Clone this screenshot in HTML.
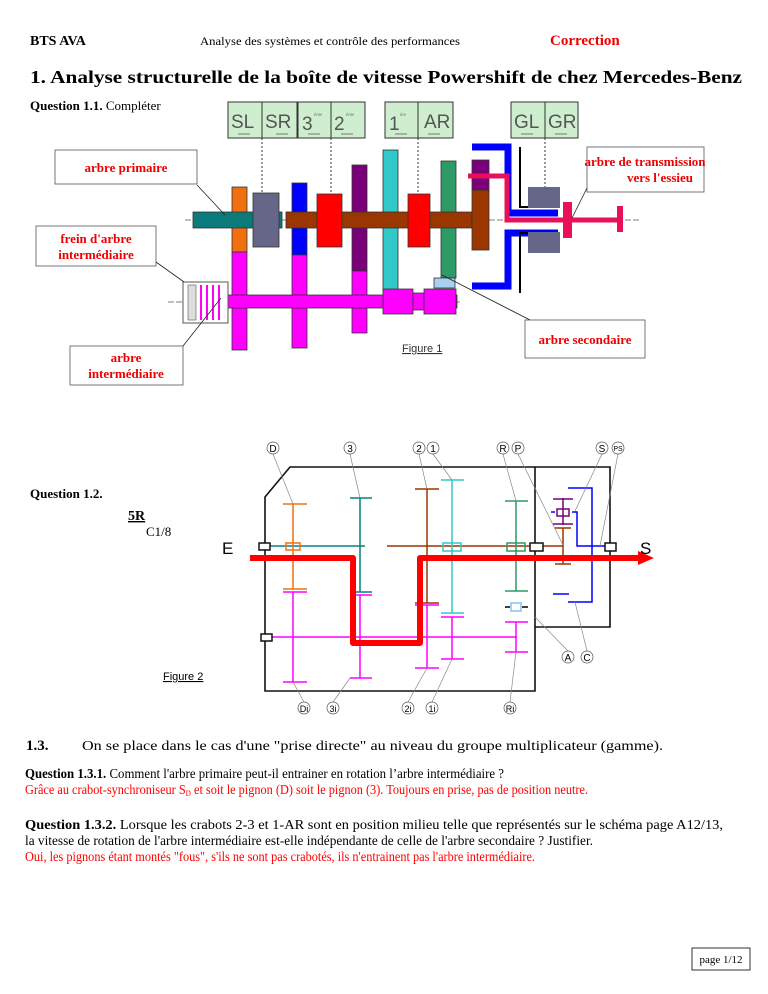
<!DOCTYPE html>
<html><head><meta charset="utf-8"><style>
html,body{margin:0;padding:0;background:#fff}
svg{display:block}
text{font-family:"Liberation Serif",serif}
.sans{font-family:"Liberation Sans",sans-serif}
</style></head><body>
<svg width="768" height="994" viewBox="0 0 768 994" xmlns="http://www.w3.org/2000/svg">
<!-- header -->
<text x="30" y="45" font-size="14" font-weight="bold">BTS AVA</text>
<text x="200" y="45" font-size="12" textLength="260" lengthAdjust="spacingAndGlyphs">Analyse des systèmes et contrôle des performances</text>
<text x="550" y="45" font-size="15" font-weight="bold" fill="#e00">Correction</text>
<text x="30" y="83" font-size="18" font-weight="bold" textLength="712" lengthAdjust="spacingAndGlyphs">1. Analyse structurelle de la boîte de vitesse Powershift de chez Mercedes-Benz</text>
<text x="30" y="110" font-size="13"><tspan font-weight="bold">Question 1.1.</tspan> Compléter</text>

<!-- FIGURE 1 -->
<g stroke="#333" stroke-width="1">
<rect x="228" y="102" width="69" height="36" fill="#cfeecf"/><line x1="262" y1="102" x2="262" y2="138"/>
<rect x="298" y="102" width="67" height="36" fill="#cfeecf"/><line x1="331" y1="102" x2="331" y2="138"/>
<rect x="385" y="102" width="68" height="36" fill="#cfeecf"/><line x1="418" y1="102" x2="418" y2="138"/>
<rect x="511" y="102" width="67" height="36" fill="#cfeecf"/><line x1="545" y1="102" x2="545" y2="138"/>
</g>
<g class="sans" font-size="19" fill="#555">
<text x="231" y="128" class="sans">SL</text><text x="265" y="128" class="sans">SR</text>
<text x="302" y="130" class="sans">3</text><text x="334" y="130" class="sans">2</text>
<text x="389" y="130" class="sans">1</text><text x="424" y="128" class="sans">AR</text>
<text x="514" y="128" class="sans">GL</text><text x="548" y="128" class="sans">GR</text>
</g>
<g font-size="5" fill="#777"><text x="314" y="116">ème</text><text x="346" y="116">ème</text><text x="400" y="116">ère</text></g>
<g fill="none" stroke="#777" stroke-width="1">
<path d="M238 134h12M276 134h12M308 134h12M341 134h12M395 134h12M428 134h12M521 134h12M555 134h12"/>
</g>
<g stroke="#333" stroke-dasharray="2,2" stroke-width="1">
<line x1="262" y1="138" x2="262" y2="195"/><line x1="331" y1="138" x2="331" y2="195"/><line x1="418" y1="138" x2="418" y2="195"/><line x1="545" y1="138" x2="545" y2="188"/>
</g>
<line x1="185" y1="220" x2="640" y2="220" stroke="#555" stroke-dasharray="6,2" stroke-width="0.8"/>
<line x1="168" y1="302" x2="460" y2="302" stroke="#555" stroke-dasharray="6,2" stroke-width="0.8"/>
<g stroke="#333" stroke-width="0.8">
<rect x="232" y="187" width="15" height="65" fill="#f07010"/>
<rect x="232" y="252" width="15" height="98" fill="#f0f"/>
<rect x="292" y="183" width="15" height="72" fill="#00f"/>
<rect x="292" y="255" width="15" height="93" fill="#f0f"/>
<rect x="352" y="165" width="15" height="106" fill="#7a007a"/>
<rect x="352" y="271" width="15" height="62" fill="#f0f"/>
<rect x="383" y="150" width="15" height="140" fill="#30c8c8"/>
<rect x="441" y="161" width="15" height="117" fill="#2e9a66"/>
<rect x="434" y="278" width="21" height="10" fill="#a8d0f0"/>
<rect x="193" y="212" width="89" height="16" fill="#0a7a7a"/>
<rect x="286" y="212" width="186" height="16" fill="#9a3600"/>
<rect x="200" y="295" width="257" height="13" fill="#f0f"/>
<rect x="383" y="289" width="30" height="25" fill="#f0f"/>
<rect x="413" y="293" width="12" height="17" fill="#f0f"/>
<rect x="424" y="289" width="32" height="25" fill="#f0f"/>
<rect x="253" y="193" width="26" height="54" fill="#666688"/>
<rect x="317" y="194" width="25" height="53" fill="#f00"/>
<rect x="408" y="194" width="22" height="53" fill="#f00"/>
<rect x="472" y="190" width="17" height="60" fill="#9a3600"/>
<rect x="472" y="160" width="17" height="30" fill="#7a007a"/>
</g>
<rect x="183" y="282" width="45" height="41" fill="#fff" stroke="#555"/>
<rect x="188" y="285" width="8" height="35" fill="#ddd" stroke="#555" stroke-width="0.6"/>
<g stroke="#f0f" stroke-width="2"><path d="M201 285v35M207 285v35M213 285v35M219 285v35"/></g>
<path d="M472 147h36v66h50" fill="none" stroke="#00f" stroke-width="7"/>
<path d="M472 286h36v-53h50" fill="none" stroke="#00f" stroke-width="7"/>
<path d="M520 147v60h10M520 293v-60h10" fill="none" stroke="#000" stroke-width="2"/>
<rect x="528" y="187" width="32" height="21" fill="#666688"/>
<rect x="528" y="232" width="32" height="21" fill="#666688"/>
<path d="M468 176h39v44h115" fill="none" stroke="#e8105a" stroke-width="5"/>
<rect x="563" y="202" width="9" height="36" fill="#e8105a"/>
<rect x="617" y="206" width="6" height="26" fill="#e8105a"/>
<g fill="#fff" stroke="#555" stroke-width="0.8">
<rect x="55" y="150" width="142" height="34"/>
<rect x="587" y="147" width="117" height="45"/>
<rect x="36" y="226" width="120" height="40"/>
<rect x="70" y="346" width="113" height="39"/>
<rect x="525" y="320" width="120" height="38"/>
</g>
<g stroke="#222" stroke-width="0.8" fill="none">
<path d="M197 185l28 30M156 262l28 20M183 346l38-48 M530 320l-88-45M587 188l-15 30"/>
</g>
<g font-size="13" font-weight="bold" fill="#e00" text-anchor="middle">
<text x="126" y="172">arbre primaire</text>
<text x="645" y="166">arbre de transmission</text><text x="660" y="182">vers l'essieu</text>
<text x="96" y="243">frein d'arbre</text><text x="96" y="259">intermédiaire</text>
<text x="126" y="362">arbre</text><text x="126" y="378">intermédiaire</text>
<text x="585" y="344">arbre secondaire</text>
</g>
<text x="402" y="352" font-size="11" class="sans" fill="#333" text-decoration="underline">Figure 1</text>

<text x="30" y="498" font-size="13" font-weight="bold">Question 1.2.</text>
<text x="128" y="520" font-size="14" font-weight="bold" text-decoration="underline">5R</text>
<text x="146" y="536" font-size="13">C1/8</text>
<text x="163" y="680" font-size="11" class="sans" text-decoration="underline">Figure 2</text>

<!-- FIGURE 2 -->
<path d="M265 497L290 467H610V627H535V691H265Z" fill="none" stroke="#111" stroke-width="1.6"/>
<line x1="535" y1="467" x2="535" y2="627" stroke="#111" stroke-width="1.6"/>
<g stroke-width="1.5" fill="none">
<path d="M265 546H365" stroke="#0a8080"/>
<path d="M387 546H563" stroke="#9a3600"/>
<path d="M263 637H517" stroke="#f0f"/>
<path d="M293 504v85M283 504h24M283 589h24" stroke="#f07010"/>
<rect x="286" y="543" width="14" height="7" stroke="#f07010"/>
<path d="M293 592v90M283 592h24M283 682h24" stroke="#f0f"/>
<path d="M360 498v94M350 498h22M350 592h22" stroke="#0a8080"/>
<path d="M360 595v83M350 595h22M350 678h22" stroke="#f0f"/>
<path d="M427 489v114M415 489h24M415 603h24" stroke="#9a3600"/>
<path d="M427 605v63M415 605h24M415 668h24" stroke="#f0f"/>
<path d="M452 480v133M441 480h23M441 613h23" stroke="#30c8c8"/>
<rect x="443" y="543" width="18" height="8" stroke="#30c8c8"/>
<path d="M452 617v42M441 617h23M441 659h23" stroke="#f0f"/>
<path d="M516 501v90M505 501h23M505 591h23" stroke="#2e9a66"/>
<rect x="507" y="543" width="18" height="8" stroke="#2e9a66"/>
<rect x="511" y="603" width="10" height="8" stroke="#8ac0f0"/>
<path d="M505 607h5M522 607h6" stroke="#000"/>
<path d="M516 622v30M505 622h23M505 652h23" stroke="#f0f"/>
<path d="M563 528v36M555 528h16M555 564h16" stroke="#9a3600"/>
<path d="M563 498v27M553 499h20M553 524h20" stroke="#7a007a"/>
<rect x="557" y="509" width="12" height="7" stroke="#7a007a"/>
<path d="M568 488h24v114h-24M572 512h5v34h32M551 512h4M553 594h16" stroke="#00f"/>
</g>
<path d="M250 558H353V643H420V558H640" fill="none" stroke="#f00" stroke-width="6" stroke-linejoin="round"/>
<path d="M638 551L654 558L638 565Z" fill="#f00"/>
<g fill="#fff" stroke="#111" stroke-width="1.5">
<rect x="259" y="543" width="11" height="7"/><rect x="261" y="634" width="11" height="7"/>
<rect x="530" y="543" width="13" height="8"/><rect x="605" y="543" width="11" height="8"/>
</g>
<text x="222" y="554" font-size="17" class="sans">E</text>
<text x="640" y="554" font-size="17" class="sans">S</text>
<g stroke="#888" stroke-width="0.7" fill="none">
<path d="M273 454L293 504M350 454L360 498M419 454L427 489M433 454L452 480M503 454L516 501M518 454L563 545M602 454L575 511M618 454L600 546M304 702L293 682M333 702L350 678M408 702L427 668M432 702L452 659M510 702L516 652M568 651L535 617M587 651L575 602"/>
</g>
<g font-size="10" class="sans" text-anchor="middle">
<g fill="#fff" stroke="#555" stroke-width="0.7">
<circle cx="273" cy="448" r="6"/><circle cx="350" cy="448" r="6"/><circle cx="419" cy="448" r="6"/><circle cx="433" cy="448" r="6"/><circle cx="503" cy="448" r="6"/><circle cx="518" cy="448" r="6"/><circle cx="602" cy="448" r="6"/><circle cx="618" cy="448" r="6"/>
<circle cx="304" cy="708" r="6"/><circle cx="333" cy="708" r="6"/><circle cx="408" cy="708" r="6"/><circle cx="432" cy="708" r="6"/><circle cx="510" cy="708" r="6"/><circle cx="568" cy="657" r="6"/><circle cx="587" cy="657" r="6"/>
</g>
<text x="273" y="452" class="sans">D</text><text x="350" y="452" class="sans">3</text><text x="419" y="452" class="sans">2</text><text x="433" y="452" class="sans">1</text><text x="503" y="452" class="sans">R</text><text x="518" y="452" class="sans">P</text><text x="602" y="452" class="sans">S</text><text x="618" y="451" font-size="7" class="sans">PS</text>
<text x="304" y="712" font-size="9" class="sans">Di</text><text x="333" y="712" font-size="9" class="sans">3i</text><text x="408" y="712" font-size="9" class="sans">2i</text><text x="432" y="712" font-size="9" class="sans">1i</text><text x="510" y="712" font-size="9" class="sans">Ri</text><text x="568" y="661" class="sans">A</text><text x="587" y="661" class="sans">C</text>
</g>

<!-- section 1.3 -->
<text x="26" y="750" font-size="15" font-weight="bold">1.3.</text>
<text x="82" y="750" font-size="13.5" textLength="581" lengthAdjust="spacingAndGlyphs">On se place dans le cas d'une "prise directe" au niveau du groupe multiplicateur (gamme).</text>
<text x="25" y="778" font-size="13.5" textLength="479" lengthAdjust="spacingAndGlyphs"><tspan font-weight="bold">Question 1.3.1.</tspan> Comment l'arbre primaire peut-il entrainer en rotation l’arbre intermédiaire ?</text>
<text x="25" y="794" font-size="13.5" fill="#f00" textLength="563" lengthAdjust="spacingAndGlyphs">Grâce au crabot-synchroniseur S<tspan font-size="8" dy="2">D</tspan><tspan dy="-2"> et soit le pignon (D) soit le pignon (3). Toujours en prise, pas de position neutre.</tspan></text>
<text x="25" y="829" font-size="13.5" textLength="698" lengthAdjust="spacingAndGlyphs"><tspan font-weight="bold">Question 1.3.2.</tspan> Lorsque les crabots 2-3 et 1-AR sont en position milieu telle que représentés sur le schéma page A12/13,</text>
<text x="25" y="845" font-size="13.5" textLength="568" lengthAdjust="spacingAndGlyphs">la vitesse de rotation de l'arbre intermédiaire est-elle indépendante de celle de l'arbre secondaire ? Justifier.</text>
<text x="25" y="861" font-size="13.5" fill="#f00" textLength="510" lengthAdjust="spacingAndGlyphs">Oui, les pignons étant montés "fous", s'ils ne sont pas crabotés, ils n'entrainent pas l'arbre intermédiaire.</text>

<rect x="692" y="948" width="58" height="22" fill="none" stroke="#000" stroke-width="0.8"/>
<text x="721" y="963" font-size="11" text-anchor="middle">page 1/12</text>
</svg>
</body></html>
